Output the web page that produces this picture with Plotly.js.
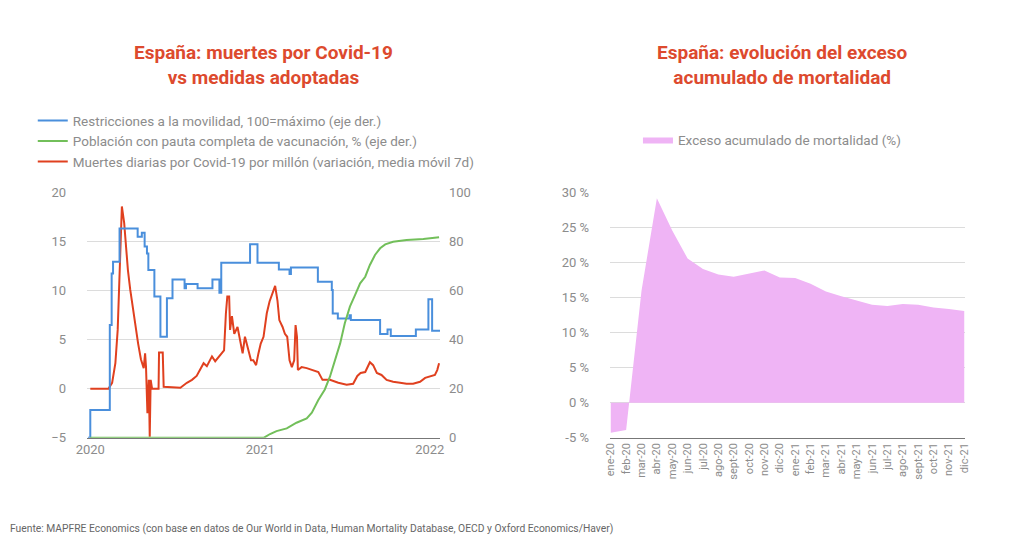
<!DOCTYPE html>
<html>
<head>
<meta charset="utf-8">
<script src="https://cdn.plot.ly/plotly-3.0.1.min.js"></script>
<style>html,body{margin:0;padding:0;background:#fff;}#chart{width:1024px;height:545px;}</style>
</head>
<body>
<div id="chart"></div>
<script>
// ---------- Left chart data (days since 2020-01-01) ----------
const deathsDays = [0,39,47,54,59,63,68,73,77,81,86,92,97,103,109,115,118,120,123,126,128,130,133,147,148,156,158,179,194,208,219,229,244,251,262,269,280,288,292,295,299,301,305,310,317,323,328,333,338,346,351,357,362,367,373,380,386,392,398,403,407,414,419,424,429,434,439,442,445,447,455,466,477,491,500,516,534,552,566,575,582,592,602,609,617,627,638,652,667,681,695,710,721,735,742,747,751];
const deathsVals = [0,0,0.6,2.6,6,12.8,18.6,16.9,14.5,12.1,10.1,8.0,6.3,4.6,3.0,2.1,3.6,2.2,-2.5,0.9,-4.9,0.9,0,0,3.7,3.7,0.2,0.1,0.1,0.6,0.9,1.3,2.6,2.3,3.3,2.8,3.4,3.9,7.7,9.4,9.4,6.0,7.4,5.6,6.3,5.0,3.6,5.3,4.3,2.9,2.9,2.4,3.6,4.6,5.3,7.7,8.9,9.7,10.5,9.0,7.0,6.3,5.6,5.3,2.9,2.2,2.9,6.5,5.3,1.9,2.2,2.1,1.9,1.7,0.9,0.9,0.6,0.4,0.5,1.3,1.6,1.7,2.7,2.4,1.6,1.4,0.9,0.7,0.6,0.5,0.5,0.7,1.1,1.3,1.4,1.9,2.6];

const restrDays = [-5,0,42,46,49,63,102,111,117,122,125,138,151,165,177,203,206,231,263,278,282,344,360,406,429,432,490,520,522,533,558,561,624,640,647,701,728,736,753];
const restrVals = [0,11.3,46,67,71.8,85.4,82,83.7,78,75.2,68.4,57.6,41.2,56.9,64.6,61,62.7,61,64.6,59.2,71.4,79,71.4,68.7,66.8,69.5,63.7,60.3,50.7,48.7,50,48,42.3,44.2,41.5,44.2,56.5,43.7,43.7];

const vaccDays = [0,374,387,401,423,444,466,477,491,505,516,527,538,548,559,570,581,592,602,613,624,635,652,681,717,751];
const vaccVals = [0,0,1.5,2.7,3.8,6.1,7.9,10.2,15.4,19.7,24.9,31.7,38.5,46.7,53.5,58.2,63,65.7,70.5,74.6,77.3,78.9,80,80.7,81.1,81.8];

const yearTickDays = [0,366,731];
const yearTickText = ['2020','2021','2022'];

// ---------- Right chart data ----------
const monthLabels = ['ene-20','feb-20','mar-20','abr-20','may-20','jun-20','jul-20','ago-20','sept-20','oct-20','nov-20','dic-20',
                     'ene-21','feb-21','mar-21','abr-21','may-21','jun-21','jul-21','ago-21','sept-21','oct-21','nov-21','dic-21'];
const excessVals = [-4.3,-3.9,16,29.2,24.6,20.6,19.1,18.3,18.0,18.4,18.9,17.9,17.8,17.0,15.9,15.2,14.6,14.0,13.8,14.1,14.0,13.6,13.4,13.1];
const pctTicks = [-5,0,5,10,15,20,25,30];

// ---------- helpers ----------
function dayToDate(d){
  const t = new Date(Date.UTC(2020,0,1) + d*86400000);
  return t.toISOString().slice(0,10);
}
const toDates = arr => arr.map(dayToDate);
const monthIdx = monthLabels.map((_, i) => i);

const textGray = '#8c8c8c';
const gridCol = '#dcdcdc';
const yDom = [0.1969, 0.6464];

const traces = [
  {x: toDates(restrDays), y: restrVals, type:'scatter', mode:'lines', line:{color:'#4a8fdc', width:2, shape:'hv'},
   name:'Restricciones a la movilidad, 100=máximo (eje der.)', xaxis:'x', yaxis:'y2', legend:'legend'},
  {x: toDates(vaccDays), y: vaccVals, type:'scatter', mode:'lines', line:{color:'#72bf5a', width:2},
   name:'Población con pauta completa de vacunación, % (eje der.)', xaxis:'x', yaxis:'y2', legend:'legend'},
  {x: toDates(deathsDays), y: deathsVals, type:'scatter', mode:'lines', line:{color:'#e0401f', width:2},
   name:'Muertes diarias por Covid-19 por millón (variación, media móvil 7d)', xaxis:'x', yaxis:'y', legend:'legend'},
  {x: monthIdx, y: excessVals, type:'scatter', mode:'lines', fill:'tozeroy', fillcolor:'#efb4f5',
   line:{color:'#efb4f5', width:0}, name:'Exceso acumulado de mortalidad (%)', xaxis:'x2', yaxis:'y3', legend:'legend2'}
];

const layout = {
  width:1024, height:545,
  margin:{l:0, r:0, t:0, b:0},
  paper_bgcolor:'#ffffff', plot_bgcolor:'#ffffff',
  font:{family:'Roboto, "Open Sans", sans-serif', color:textGray, size:13},
  showlegend:true,
  xaxis:{domain:[0.085, 0.4297], anchor:'y', type:'date',
         range:[dayToDate(-7), dayToDate(753)],
         tickvals: toDates(yearTickDays), ticktext: yearTickText,
         showgrid:false, zeroline:false, showline:true, linecolor:'#777', linewidth:1,
         ticks:'', tickfont:{size:13, color:textGray}, fixedrange:true},
  yaxis:{domain:yDom, anchor:'x', range:[-5,20], tickvals:[-5,0,5,10,15,20],
         gridcolor:gridCol, gridwidth:1, zeroline:false, showline:false, ticks:'',
         ticklabelstandoff:20, tickfont:{size:13, color:textGray}},
  yaxis2:{overlaying:'y', anchor:'x', side:'right', range:[0,100], tickvals:[0,20,40,60,80,100],
          showgrid:false, zeroline:false, showline:false, ticks:'',
          ticklabelstandoff:8, tickfont:{size:13, color:textGray}},
  xaxis2:{domain:[0.5957, 0.9424], anchor:'y3', range:[-0.05, 23.05],
          tickvals: monthIdx, ticktext: monthLabels, tickangle:-90,
          showgrid:false, zeroline:false, showline:true, linecolor:'#777', linewidth:1,
          ticks:'', tickfont:{size:11, color:textGray}},
  yaxis3:{domain:yDom, anchor:'x2', range:[-5,30], tickvals:pctTicks, ticktext:pctTicks.map(v => v + ' %'),
          gridcolor:gridCol, gridwidth:1, zeroline:false, showline:false, ticks:'',
          ticklabelstandoff:20, tickfont:{size:13, color:textGray}},
  legend:{x:0.032, y:0.807, xanchor:'left', yanchor:'top', bgcolor:'rgba(0,0,0,0)',
          font:{size:13.5, color:textGray}, tracegroupgap:0, itemwidth:30, traceorder:'normal'},
  legend2:{x:0.623, y:0.772, xanchor:'left', yanchor:'top', bgcolor:'rgba(0,0,0,0)',
          font:{size:13.5, color:textGray}},
  annotations:[
    {text:'<b>España: muertes por Covid-19<br>vs medidas adoptadas</b>', xref:'paper', yref:'paper',
     x:263/1024, y:1-65/545, xanchor:'center', yanchor:'middle', showarrow:false, align:'center',
     font:{size:19, color:'#dd4a2e'}},
    {text:'<b>España: evolución del exceso<br>acumulado de mortalidad</b>', xref:'paper', yref:'paper',
     x:782/1024, y:1-65/545, xanchor:'center', yanchor:'middle', showarrow:false, align:'center',
     font:{size:19, color:'#dd4a2e'}},
    {text:'Fuente: MAPFRE Economics (con base en datos de Our World in Data, Human Mortality Database, OECD y Oxford Economics/Haver)',
     xref:'paper', yref:'paper', x:8/1024, y:1-528/545, xanchor:'left', yanchor:'middle', showarrow:false,
     font:{size:10.3, color:'#666666'}}
  ]
};

Plotly.newPlot('chart', traces, layout, {displayModeBar:false, staticPlot:true});
</script>
</body>
</html>
